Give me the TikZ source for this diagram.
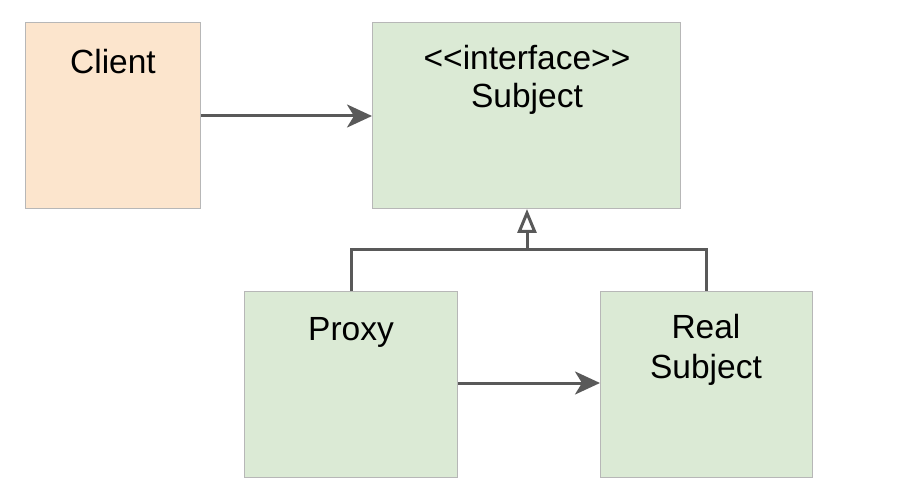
\documentclass[tikz,border=0pt]{standalone}
\usepackage{fontspec}
\setmainfont{Liberation Sans}
\usetikzlibrary{arrows.meta}
\definecolor{peach}{HTML}{FCE5CD}
\definecolor{lgreen}{HTML}{DBEAD5}
\definecolor{bord}{HTML}{B7B7B7}
\definecolor{conn}{HTML}{595959}
\begin{document}
\begin{tikzpicture}[x=1pt,y=-1pt,
  box/.style={draw=bord,line width=1pt,rectangle,inner sep=0pt,anchor=north west},
  lbl/.style={anchor=base,inner sep=0pt,font=\fontsize{33.5}{38}\selectfont},
  assoc/.style={draw=conn,line width=3pt,-{Stealth[length=25pt,width=23pt,inset=7pt]}},
  inherit/.style={draw=conn,line width=3pt,-{Triangle[open,length=24pt,width=19pt]}},
  link/.style={draw=conn,line width=3pt}]
\useasboundingbox (0,0) rectangle (914,500);
\node[box,fill=peach,minimum width=175pt,minimum height=186pt] (client) at (25,22) {};
\node[box,fill=lgreen,minimum width=308pt,minimum height=186pt] (subject) at (372,22) {};
\node[box,fill=lgreen,minimum width=213pt,minimum height=186pt] (proxy) at (244,291) {};
\node[box,fill=lgreen,minimum width=212pt,minimum height=186pt] (real) at (600,291) {};
\node[lbl] (clientT) at (113,74) {Client};
\node[lbl] (subjT1) at (527,70) {<{}<interface>{}>};
\node[lbl] (subjT2) at (527,108) {Subject};
\node[lbl] (proxyT) at (351,340) {Proxy};
\node[lbl] (realT1) at (706,338) {Real};
\node[lbl] (realT2) at (706,378) {Subject};
\coordinate (jn) at (527,250);
\draw[assoc] (client.east |- 0,116) -- (subject.west |- 0,116);
\draw[assoc] (proxy.east |- 0,383) -- (real.west |- 0,383);
\draw[link] (proxy.north -| 351,0) -- (351,250) -- (706,250) -- (real.north -| 706,0);
\draw[inherit] (jn) -- (subject.south -| jn);
\end{tikzpicture}
\end{document}
